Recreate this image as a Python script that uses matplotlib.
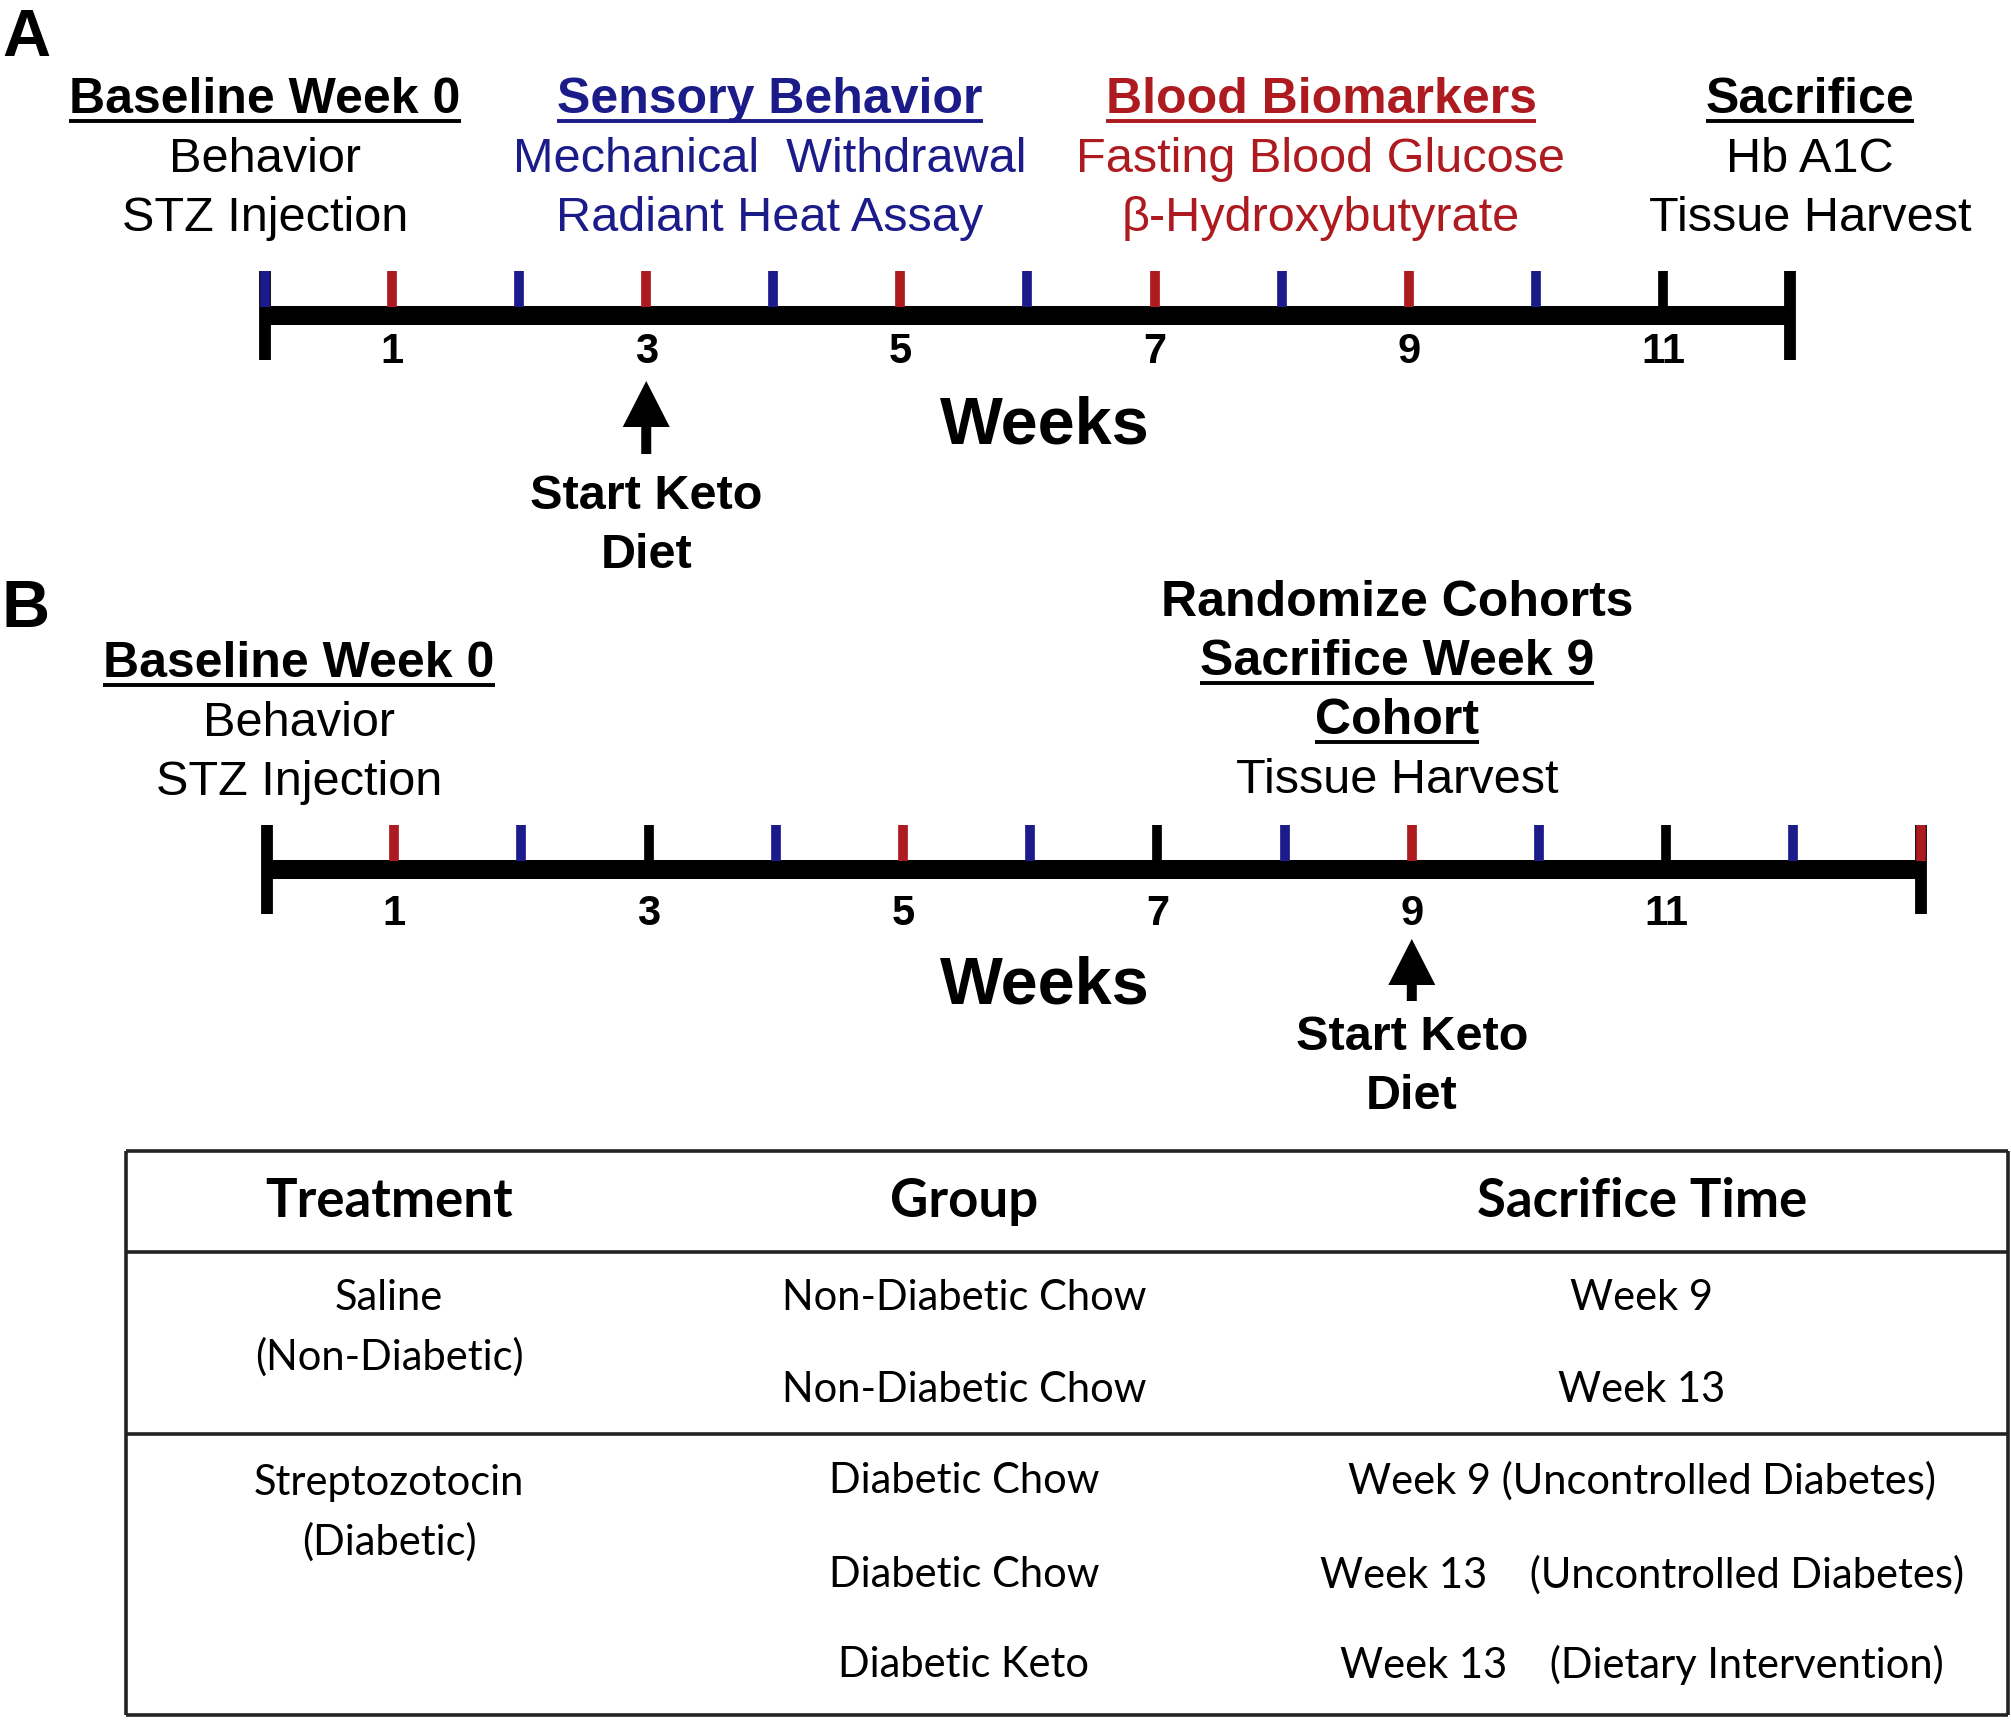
import matplotlib.pyplot as plt
from matplotlib.patches import FancyArrow

W, H = 2011, 1724
DPI = 100
plt.rcParams['font.family'] = ['Liberation Sans', 'DejaVu Sans']

BLUE = '#1b1b8a'
RED = '#ad1a1f'
tick_cmap = {'b': BLUE, 'r': RED, 'k': 'black'}

# week markers on each timeline (None = only the end cap)
weeks_a = list(range(13))
tick_colors_a = ['b', 'r', 'b', 'r', 'b', 'r', 'b', 'r', 'b', 'r', 'b', 'k', None]
weeks_b = list(range(14))
tick_colors_b = [None, 'r', 'b', 'k', 'b', 'r', 'b', 'k', 'b', 'r', 'b', 'k', 'b', 'r']
tick_labels = [1, 3, 5, 7, 9, 11]
keto_week_a = 3
keto_week_b = 9

# text blocks above the timelines: (underlined headings, body lines, colour)
blocks_a = [
    (["Baseline Week 0"], ["Behavior", "STZ Injection"], 'black'),
    (["Sensory Behavior"], ["Mechanical  Withdrawal", "Radiant Heat Assay"], BLUE),
    (["Blood Biomarkers"], ["Fasting Blood Glucose", "\u03b2-Hydroxybutyrate"], RED),
    (["Sacrifice"], ["Hb A1C", "Tissue Harvest"], 'black'),
]
blocks_b = [
    (["Baseline Week 0"], ["Behavior", "STZ Injection"], 'black'),
    (["Sacrifice Week 9", "Cohort"], ["Tissue Harvest"], 'black'),
]

# table
table_header = ["Treatment", "Group", "Sacrifice Time"]
treatments = [["Saline", "(Non-Diabetic)"], ["Streptozotocin", "(Diabetic)"]]
groups = [["Non-Diabetic Chow", "Non-Diabetic Chow"],
          ["Diabetic Chow", "Diabetic Chow", "Diabetic Keto"]]
sacrifice_times = [["Week 9", "Week 13"],
                   ["Week 9 (Uncontrolled Diabetes)",
                    "Week 13    (Uncontrolled Diabetes)",
                    "Week 13    (Dietary Intervention)"]]

fig = plt.figure(figsize=(W / DPI, H / DPI), dpi=DPI)
ax = fig.add_axes([0, 0, 1, 1])
ax.set_xlim(0, W)
ax.set_ylim(H, 0)
ax.axis('off')

underlined = []


def timeline(x0, step, y_line, weeks, colors, keto_week, lab_dy, arr_tip, arr_tail,
             keto_y, weeks_dy):
    t = fig.add_axes([0, 0, 1, 1])
    t.set_xlim(-x0 / step, (W - x0) / step)
    t.set_ylim(H, 0)
    t.axis('off')
    last = weeks[-1]
    t.plot([0, last], [y_line, y_line], color='black', lw=13.7, solid_capstyle='butt')
    t.vlines([0, last], y_line - 44, y_line + 45, color='black', lw=8.5)
    for w, c in zip(weeks, colors):
        if c:
            t.vlines(w, y_line - 44, y_line - 8, color=tick_cmap[c], lw=7)
    for w in tick_labels:
        t.text(w, y_line + lab_dy, str(w), ha='center', va='center',
               fontsize=30, fontweight='bold')
    # arrow: widths in weeks (x), lengths in pixels (y)
    t.add_patch(FancyArrow(keto_week, y_line + arr_tail, 0, arr_tip - arr_tail,
                           width=10 / step, head_width=47 / step, head_length=46,
                           length_includes_head=True, color='black', lw=0))
    t.text(keto_week, y_line + keto_y, "Start Keto", ha='center', va='center',
           fontsize=35, fontweight='bold')
    t.text(keto_week, y_line + keto_y + 59, "Diet", ha='center', va='center',
           fontsize=35, fontweight='bold')
    t.text((1045 - x0) / step, y_line + weeks_dy, "Weeks",
           ha='center', va='center', fontsize=48, fontweight='bold')
    return t


timeline(265, 127.08, 316, weeks_a, tick_colors_a, keto_week_a, 36, 66, 139, 181, 111)
timeline(267, 127.2, 870, weeks_b, tick_colors_b, keto_week_b, 44, 70, 132, 168, 117)


def block(x, y_base, heads, body, color, pre=None):
    y = y_base
    if pre:
        ax.text(x, y, pre, ha='center', va='baseline', fontsize=36,
                fontweight='bold', color=color)
        y += 59
    for h in heads:
        tx = ax.text(x, y, h, ha='center', va='baseline', fontsize=36,
                     fontweight='bold', color=color)
        underlined.append((tx, y, color))
        y += 59
    for b in body:
        ax.text(x, y, b, ha='center', va='baseline', fontsize=35, color=color)
        y += 59


for (heads, body, col), xc in zip(blocks_a, [265, 770, 1321, 1810]):
    block(xc, 113, heads, body, col)
block(299, 677, blocks_b[0][0], blocks_b[0][1], blocks_b[0][2])
block(1397, 616, [], [], 'black', pre="Randomize Cohorts")
block(1397, 675, blocks_b[1][0], blocks_b[1][1], blocks_b[1][2])

ax.text(26, 39, "A", ha='center', va='center', fontsize=48, fontweight='bold')
ax.text(26, 610, "B", ha='center', va='center', fontsize=48, fontweight='bold')

# table
tfont = ['Lato', 'DejaVu Sans']
col_x = [389, 964, 1642]
ax.hlines([1152, 1253, 1435, 1716], 126, 2008, color='#222222', lw=2.6)
ax.vlines([126, 2008], 1152, 1716, color='#222222', lw=2.6)
for txt, xc in zip(table_header, col_x):
    ax.text(xc, 1202, txt, ha='center', va='center', fontsize=38,
            fontweight='bold', family=tfont)
row_y = [[1298, 1390], [1481, 1575, 1665]]
treat_y = [[1298, 1357], [1483, 1542]]
for g in range(2):
    for txt, yy in zip(treatments[g], treat_y[g]):
        ax.text(col_x[0], yy, txt, ha='center', va='center', fontsize=30, family=tfont)
    for txt, yy in zip(groups[g], row_y[g]):
        ax.text(col_x[1], yy, txt, ha='center', va='center', fontsize=30, family=tfont)
    for txt, yy in zip(sacrifice_times[g], row_y[g]):
        ax.text(col_x[2], yy, txt, ha='center', va='center', fontsize=30, family=tfont)

# underline headings
fig.canvas.draw()
r = fig.canvas.get_renderer()
inv = ax.transData.inverted()
for tx, yb, col in underlined:
    bb = tx.get_window_extent(r)
    x0 = inv.transform((bb.x0, bb.y0))[0]
    x1 = inv.transform((bb.x1, bb.y0))[0]
    ax.plot([x0, x1], [yb + 9, yb + 9], color=col, lw=2.8, solid_capstyle='butt')

fig.savefig('out.png', dpi=DPI)
